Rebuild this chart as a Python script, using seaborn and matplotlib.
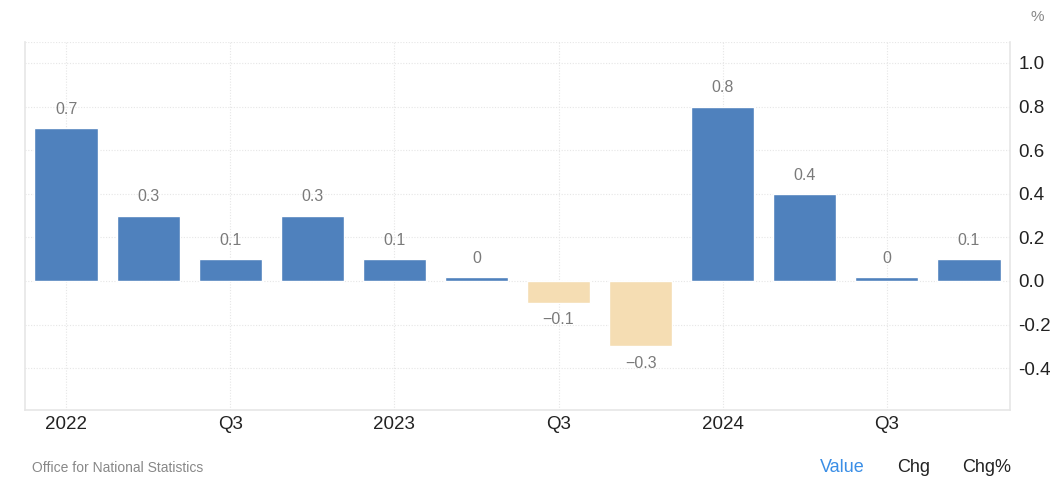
import numpy as np
import pandas as pd
import seaborn as sns
import matplotlib.pyplot as plt

# Quarterly GDP growth, % q/q
quarters = ["2022Q1", "2022Q2", "2022Q3", "2022Q4",
            "2023Q1", "2023Q2", "2023Q3", "2023Q4",
            "2024Q1", "2024Q2", "2024Q3", "2024Q4"]
values = [0.7, 0.3, 0.1, 0.3, 0.1, 0.0, -0.1, -0.3, 0.8, 0.4, 0.0, 0.1]
value_labels = ["0.7", "0.3", "0.1", "0.3", "0.1", "0", "\u22120.1", "\u22120.3",
                "0.8", "0.4", "0", "0.1"]
tick_labels = ["2022", "", "Q3", "", "2023", "", "Q3", "", "2024", "", "Q3", ""]
y_ticks = [-0.4, -0.2, 0.0, 0.2, 0.4, 0.6, 0.8, 1.0]
y_tick_labels = ["-0.4", "-0.2", "0.0", "0.2", "0.4", "0.6", "0.8", "1.0"]

BLUE = "#4f81bd"
BEIGE = "#f5ddb3"
GRID = "#e6e6e6"

sns.set_theme(style = "white")
plt.rcParams["font.family"] = ["Liberation Sans", "DejaVu Sans"]

frame = pd.DataFrame({"quarter": quarters, "value": values})
# zero readings still get a thin sliver, as in the source chart
frame["shown"] = np.where(frame["value"] == 0, 0.017, frame["value"])
frame["sign"] = np.where(frame["value"] < 0, "neg", "pos")

fig = plt.figure(figsize = (10.56, 4.78), dpi = 100)
ax = fig.add_axes([0.0237, 0.1423, 0.9327, 0.7697])

sns.barplot(
    data = frame, x = "quarter", y = "shown", hue = "sign",
    palette = {"pos": BLUE, "neg": BEIGE}, order = quarters,
    dodge = False, legend = False, width = 0.77, saturation = 1, ax = ax
)

for i, (val, lab) in enumerate(zip(frame["shown"], value_labels)):
    offset = 13.5 if val >= 0 else -12
    ax.annotate(lab, (i, val), xytext = (0, offset), textcoords = "offset points",
                ha = "center", va = "center", fontsize = 11.5, color = "#7a7a7a")

ax.set_xlim(-0.5, 11.5)
ax.set_ylim(-0.592, 1.096)
ax.set_xlabel("")
ax.set_ylabel("")

ax.set_xticks(range(len(quarters)))
ax.set_xticklabels(tick_labels, fontsize = 13.5, color = "#222222")
ax.yaxis.tick_right()
ax.set_yticks(y_ticks)
ax.set_yticklabels(y_tick_labels, fontsize = 13.5, color = "#222222")
ax.tick_params(axis = "both", length = 0)
ax.tick_params(axis = "y", pad = 6)
ax.tick_params(axis = "x", pad = 4)

# dotted grid, vertical lines only at labelled quarters
for y in y_ticks + [1.096]:
    ax.axhline(y, color = GRID, linestyle = (0, (1, 1.5)), linewidth = 0.8, zorder = 0)
for i, lab in enumerate(tick_labels):
    if lab:
        ax.axvline(i, color = GRID, linestyle = (0, (1, 1.5)), linewidth = 0.8, zorder = 0)

for side in ["left", "bottom", "right"]:
    ax.spines[side].set_color("#e6e6e6")
    ax.spines[side].set_linewidth(1.2)
ax.spines["top"].set_visible(False)

fig.text(0.982, 0.965, "%", fontsize = 11, color = "#888888", ha = "center", va = "center")
fig.text(0.030, 0.021, "Office for National Statistics", fontsize = 10, color = "#888888",
         ha = "left", va = "center")
fig.text(0.776, 0.021, "Value", fontsize = 13, color = "#3a8ee6", ha = "left", va = "center")
fig.text(0.850, 0.021, "Chg", fontsize = 13, color = "#222222", ha = "left", va = "center")
fig.text(0.911, 0.021, "Chg%", fontsize = 13, color = "#222222", ha = "left", va = "center")

fig.savefig("out.png", dpi = 100)
plt.close(fig)
